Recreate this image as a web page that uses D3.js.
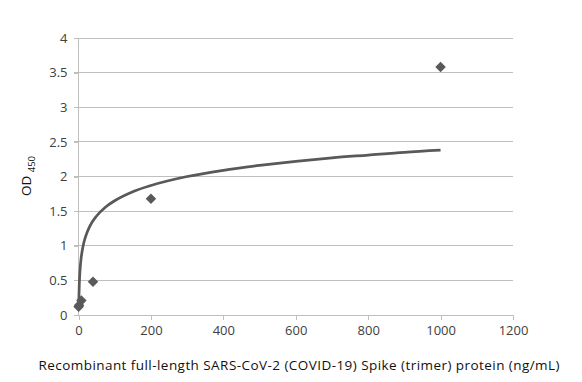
<!DOCTYPE html>
<html><head><meta charset="utf-8">
<script src="https://cdn.jsdelivr.net/npm/d3@7"></script>
<style>body{margin:0;background:#fff}svg{display:block}text{font-family:"Open Sans","Liberation Sans",sans-serif}</style>
</head><body><svg id="c" width="582" height="382"></svg>
<script>
// Scatter data (concentration ng/mL, OD450)
const conc = [1000, 200, 40, 8, 1.6, 0.32];
const od   = [3.58, 1.68, 0.48, 0.21, 0.14, 0.12];
// Logarithmic trendline, points
const trendX = [0.8, 1, 1.5, 2, 3, 5, 7, 10, 15, 20, 30, 50, 75, 100, 150, 200, 300, 400, 500, 600, 700, 800, 900, 1000];
const trendY = [0.12, 0.19, 0.32, 0.41, 0.54, 0.70, 0.81, 0.92, 1.05, 1.14, 1.27, 1.43, 1.56, 1.65, 1.78, 1.87, 2.00, 2.09, 2.16, 2.22, 2.27, 2.31, 2.35, 2.38];
const xTicks = [0, 200, 400, 600, 800, 1000, 1200];
const yTicks = [0, 0.5, 1, 1.5, 2, 2.5, 3, 3.5, 4];

const svg = d3.select("#c");
const L = 78.5, R = 513, T = 38, B = 315;
const x = d3.scaleLinear().domain([0, 1200]).range([L, R]);
const y = d3.scaleLinear().domain([0, 4]).range([B, T]);

// gridlines
svg.append("g").selectAll("line").data(yTicks.filter(d => d > 0)).join("line")
  .attr("x1", L - 5).attr("x2", R).attr("y1", d => y(d)).attr("y2", d => y(d))
  .attr("stroke", "#bfbfbf").attr("stroke-width", 1).attr("shape-rendering", "crispEdges");

// y axis
const ya = svg.append("g").attr("transform", `translate(${L},0)`)
  .call(d3.axisLeft(y).tickValues(yTicks).tickSize(5).tickPadding(6).tickFormat(d => String(d)));
ya.select(".domain").attr("stroke", "#bfbfbf").attr("d", `M0,${T}V${B}`);
ya.selectAll(".tick line").attr("stroke", "#bfbfbf");
ya.selectAll("text").attr("fill", "#404040").style("font-size", "13px");

// x axis
const xa = svg.append("g").attr("transform", `translate(0,${B})`)
  .call(d3.axisBottom(x).tickValues(xTicks).tickSize(5).tickPadding(6).tickFormat(d => String(d)));
xa.select(".domain").attr("stroke", "#bfbfbf").attr("d", `M${L},0H${R}`);
xa.selectAll(".tick line").attr("stroke", "#bfbfbf");
xa.selectAll("text").attr("fill", "#404040").style("font-size", "13px");
svg.selectAll(".tick line, .domain").attr("shape-rendering", "crispEdges");

// trendline
const line = d3.line().x(d => x(d[0])).y(d => y(d[1])).curve(d3.curveMonotoneX);
svg.append("path").datum(d3.zip(trendX, trendY)).attr("d", line)
  .attr("fill", "none").attr("stroke", "#595959").attr("stroke-width", 2.75);

// markers
const sym = d3.symbol().type(d3.symbolDiamond2).size(70);
svg.append("g").selectAll("path").data(d3.zip(conc, od)).join("path")
  .attr("d", sym).attr("transform", d => `translate(${x(d[0])},${y(d[1])})`)
  .attr("fill", "#595959");

// axis titles
svg.append("text").attr("x", 299).attr("y", 370).attr("text-anchor", "middle")
  .attr("fill", "#111").style("font-size", "13.5px")
  .attr("textLength", 521).attr("lengthAdjust", "spacing")
  .text("Recombinant  full-length SARS-CoV-2 (COVID-19) Spike (trimer)  protein (ng/mL)");
const yt = svg.append("text").attr("transform", "translate(31,176) rotate(-90)")
  .attr("text-anchor", "middle").attr("fill", "#111").style("font-size", "13.5px");
yt.append("tspan").text("OD ");
yt.append("tspan").attr("dy", 4).style("font-size", "9.5px").text("450");
</script></body></html>
